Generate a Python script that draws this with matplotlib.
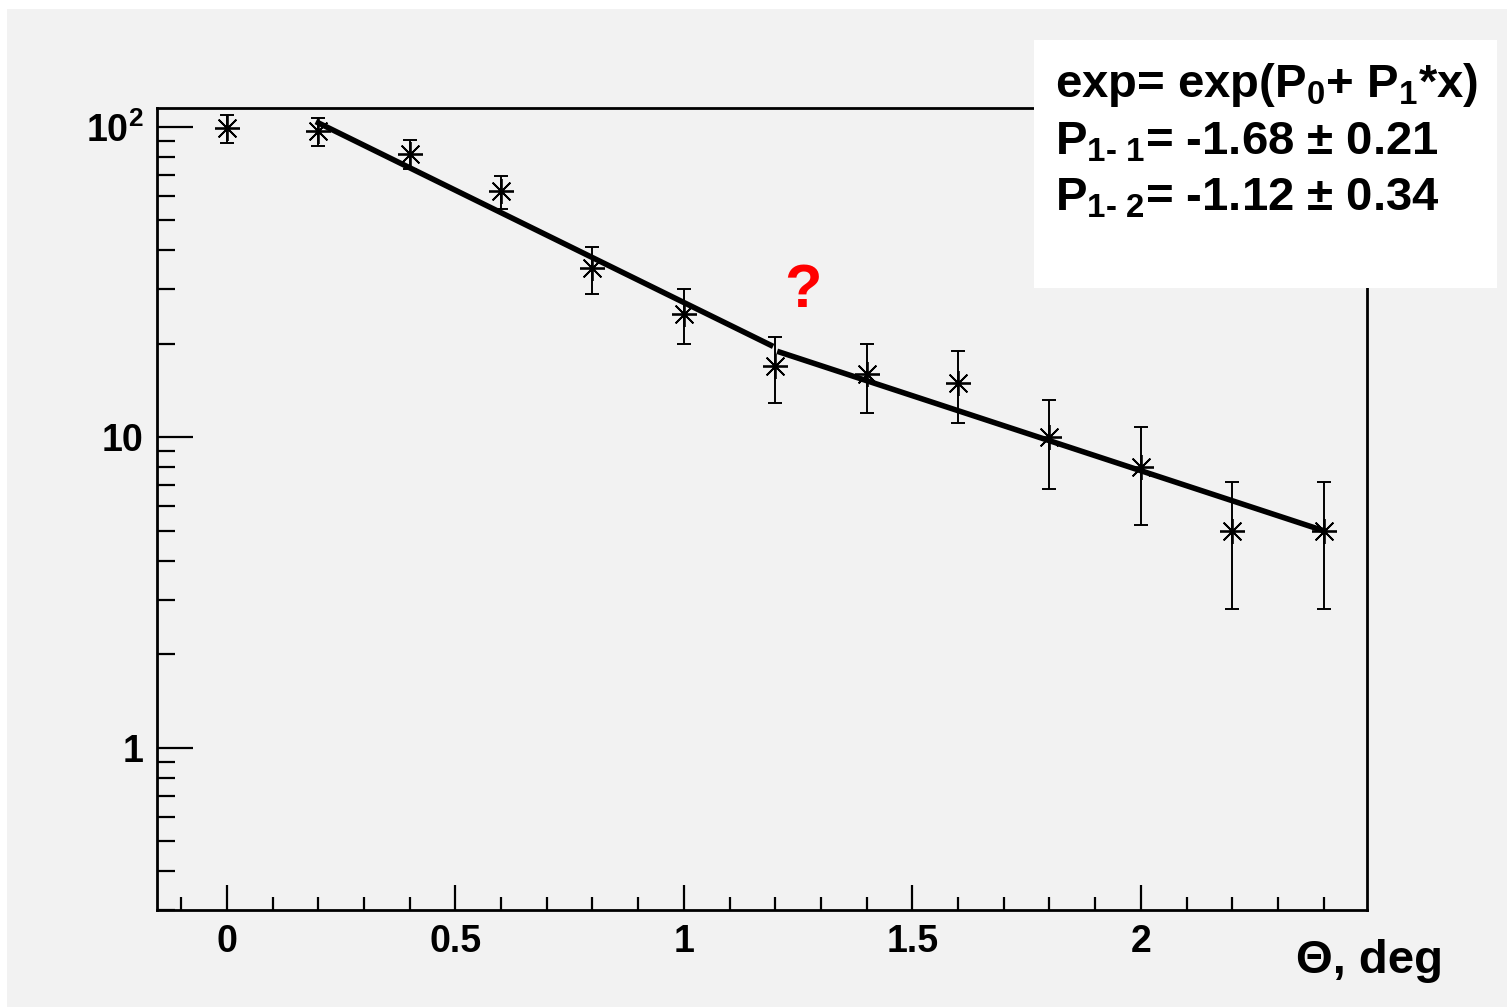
"""
Angular distribution with two exponential fits (ROOT style look).
"""
import matplotlib
matplotlib.use('Agg')
import matplotlib.pyplot as plt
import matplotlib.ticker as mticker
from matplotlib.patches import Rectangle

plt.rcParams['font.family'] = ['Liberation Sans', 'DejaVu Sans']
plt.rcParams['font.weight'] = 'bold'
plt.rcParams['mathtext.fontset'] = 'custom'
plt.rcParams['mathtext.rm'] = 'Liberation Sans:bold'
plt.rcParams['mathtext.it'] = 'Liberation Sans:bold'
plt.rcParams['mathtext.bf'] = 'Liberation Sans:bold'

# Measured points
theta = [0.0, 0.2, 0.4, 0.6, 0.8, 1.0, 1.2, 1.4, 1.6, 1.8, 2.0, 2.2, 2.4]
counts = [99, 97, 82, 62, 35, 25, 17, 16, 15, 10, 8, 5, 5]
errors = [10, 10, 9, 7.5, 6, 5, 4.1, 4, 3.9, 3.2, 2.8, 2.2, 2.2]

# Fit segments (end points, straight on log scale)
fit1_x = [0.2, 1.19]
fit1_y = [103, 19.8]
fit2_x = [1.21, 2.4]
fit2_y = [18.8, 5.0]

stats_lines = [
    'exp= exp(P$_0$+ P$_1$*x)',
    r'P$_{1\text{- }1}$= -1.68 ± 0.21',
    r'P$_{1\text{- }2}$= -1.12 ± 0.34',
]

W, H = 1507, 1007
fig = plt.figure(figsize=(W / 100, H / 100), dpi=100, facecolor='white')

# Gray canvas with thin white margin on top/left
fig.add_artist(Rectangle((7 / W, 0), 1 - 7 / W, 1 - 9 / H,
                         transform=fig.transFigure, facecolor='#f2f2f2',
                         edgecolor='none', zorder=-10))

ax = fig.add_axes([157 / W, 1 - 910 / H, (1367 - 157) / W, (910 - 108) / H])
ax.set_facecolor('#f2f2f2')

ax.errorbar(theta, counts, yerr=errors, fmt='none', ecolor='black',
            elinewidth=1.4, capsize=5, capthick=1.4, zorder=3)
ax.plot(theta, counts, linestyle='none', marker=(8, 2, 0), markersize=18,
        markeredgewidth=1.3, color='black', zorder=4)

ax.plot(fit1_x, fit1_y, color='black', linewidth=4, zorder=5)
ax.plot(fit2_x, fit2_y, color='black', linewidth=4, zorder=5)

ax.set_yscale('log')
ax.set_xlim(-0.153, 2.495)
ax.set_ylim(0.30, 115)

# Axis ticks
ax.xaxis.set_major_locator(mticker.MultipleLocator(0.5))
ax.xaxis.set_minor_locator(mticker.MultipleLocator(0.1))
ax.xaxis.set_major_formatter(mticker.FuncFormatter(lambda v, p: f'{v:g}'))
ax.yaxis.set_major_locator(mticker.FixedLocator([1, 10, 100]))
ax.yaxis.set_major_formatter(mticker.FixedFormatter(['1', '10', '$10^{2}$']))
ax.yaxis.set_minor_locator(mticker.LogLocator(base=10, subs=range(2, 10)))
ax.yaxis.set_minor_formatter(mticker.NullFormatter())

ax.tick_params(axis='x', which='major', direction='in', length=18, width=1.6,
               labelsize=27, pad=10, top=False)
ax.tick_params(axis='x', which='minor', direction='in', length=9.5, width=1.6,
               top=False)
ax.tick_params(axis='y', which='major', direction='in', length=26, width=1.6,
               labelsize=27, pad=10, right=False)
ax.tick_params(axis='y', which='minor', direction='in', length=13, width=1.6,
               right=False)
for s in ax.spines.values():
    s.set_linewidth(2)

fig.text(1443 / W, 1 - 973 / H, 'Θ, deg', fontsize=34, ha='right',
         va='baseline')

# Question mark
ax.text(1.26, 29.5, '?', color='red', fontsize=44, ha='center', va='center')

# Stats box
fig.add_artist(Rectangle((1034 / W, 1 - 288 / H), (1497 - 1034) / W,
                         (288 - 40) / H, transform=fig.transFigure,
                         facecolor='white', edgecolor='none', zorder=10))
for i, line in enumerate(stats_lines):
    fig.text(1055 / W, 1 - (97 + 57 * i) / H, line, fontsize=34,
             va='baseline', ha='left', zorder=11)

fig.savefig('out.png', dpi=100, facecolor=fig.get_facecolor())
